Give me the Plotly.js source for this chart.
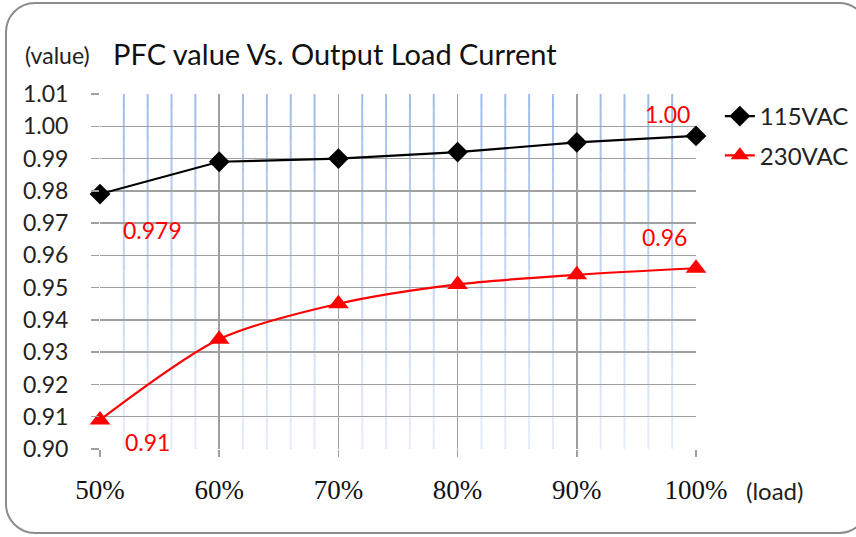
<!DOCTYPE html>
<html>
<head>
<meta charset="utf-8">
<script src="https://cdn.plot.ly/plotly-3.0.1.min.js"></script>
<style>
  html, body { margin: 0; padding: 0; background: #fff; }
  #wrap { position: relative; width: 856px; height: 537px; overflow: hidden; }
  #chart { width: 856px; height: 537px; }
  #frame { position: absolute; left: 5px; top: 2px; width: 860px; height: 528px;
           border: 2px solid #8c8c8c; border-radius: 30px; pointer-events: none; }
</style>
</head>
<body>
<div id="wrap"><div id="chart"></div><div id="frame"></div></div>
<script>
// ---- data ----
const loads = [50, 60, 70, 80, 90, 100];
const tickLabels = ['50%', '60%', '70%', '80%', '90%', '100%'];
const pfc115 = [0.979, 0.989, 0.990, 0.992, 0.995, 0.997];
const pfc230 = [0.909, 0.934, 0.945, 0.951, 0.954, 0.956];
const seriesNames = ['115VAC', '230VAC'];
const titleText = 'PFC value Vs. Output Load Current';
const yUnit = '(value)';
const xUnit = '(load)';

const xRange = [50, 100];
const yRange = [0.90, 1.01];

// ---- minor gridlines with a vertical fade (top blue, bottom pale) ----
const shapes = [];
const nSeg = 22;
const cTop = [158, 188, 234], cBot = [232, 238, 250];
for (let xv = xRange[0] + 2; xv < xRange[1]; xv += 2) {
  if (xv % 10 === 0) continue;
  for (let s = 0; s < nSeg; s++) {
    const t = (s + 0.5) / nSeg; // 0 bottom -> 1 top
    const c = cBot.map((b, i) => Math.round(b + (cTop[i] - b) * t));
    const y0 = yRange[0] + (yRange[1] - yRange[0]) * s / nSeg;
    const y1 = yRange[0] + (yRange[1] - yRange[0]) * (s + 1) / nSeg;
    shapes.push({ type: 'line', xref: 'x', yref: 'y', x0: xv, x1: xv, y0: y0, y1: y1,
      layer: 'below', line: { color: `rgb(${c[0]},${c[1]},${c[2]})`, width: 2 } });
  }
}

const traces = [
  { x: loads, y: pfc115, name: seriesNames[0], type: 'scatter', mode: 'lines+markers',
    legendgroup: 'a',
    line: { color: '#000000', width: 2.2 },
    marker: { symbol: 'diamond', size: 16, color: '#000000' }, cliponaxis: false },
  { x: loads, y: pfc230, name: seriesNames[1], type: 'scatter', mode: 'lines+markers',
    legendgroup: 'b',
    line: { color: '#ff0000', width: 2.2, shape: 'spline', smoothing: 0.8 },
    marker: { symbol: 'triangle-up', size: 18, color: '#ff0000' }, cliponaxis: false }
];

const lastI = loads.length - 1;
const labelFont = { family: 'Lato, "Open Sans", sans-serif', size: 23, color: '#ff0000' };
const annotations = [
  { x: loads[0], y: pfc115[0], xref: 'x', yref: 'y', text: pfc115[0].toFixed(3),
    showarrow: false, xshift: 52, yshift: -36, font: labelFont },
  { x: loads[0], y: pfc230[0], xref: 'x', yref: 'y', text: pfc230[0].toFixed(2),
    showarrow: false, xshift: 47, yshift: -22, font: labelFont },
  { x: loads[lastI], y: pfc115[lastI], xref: 'x', yref: 'y', text: pfc115[lastI].toFixed(2),
    showarrow: false, xshift: -29, yshift: 22, font: labelFont },
  { x: loads[lastI], y: pfc230[lastI], xref: 'x', yref: 'y', text: pfc230[lastI].toFixed(2),
    showarrow: false, xshift: -32, yshift: 31, font: labelFont },
  { x: -0.072, y: 1.11, xref: 'paper', yref: 'paper', xanchor: 'center', yanchor: 'middle',
    text: yUnit, showarrow: false,
    font: { family: 'Lato, sans-serif', size: 23, color: '#222' } },
  { x: 1.131, y: -0.117, xref: 'paper', yref: 'paper', xanchor: 'center', yanchor: 'middle',
    text: xUnit, showarrow: false,
    font: { family: 'Lato, sans-serif', size: 24, color: '#222' } }
];

const layout = {
  width: 856, height: 537,
  margin: { l: 100, r: 160, t: 94, b: 88, autoexpand: false },
  paper_bgcolor: '#ffffff', plot_bgcolor: '#ffffff',
  title: { text: titleText, x: 113 / 856, xanchor: 'left', xref: 'container',
           y: 1 - 55 / 537, yanchor: 'middle', yref: 'container',
           font: { family: 'Lato, "Open Sans", sans-serif', size: 29, color: '#111' } },
  xaxis: {
    range: xRange, tickvals: loads, ticktext: tickLabels,
    showgrid: true, gridcolor: '#a0a0a0', gridwidth: 1.5,
    zeroline: false, showline: false,
    ticks: 'outside', ticklen: 7, tickwidth: 1.5, tickcolor: '#a0a0a0',
    ticklabelstandoff: 10,
    tickfont: { family: '"Liberation Serif", "Times New Roman", serif', size: 27, color: '#111' }
  },
  yaxis: {
    range: yRange, dtick: 0.01, tick0: 0.90, tickformat: '.2f',
    showgrid: true, gridcolor: '#a0a0a0', gridwidth: 1.5,
    zeroline: false, showline: false,
    ticks: 'outside', ticklen: 8, tickwidth: 1.5, tickcolor: '#a0a0a0',
    ticklabelstandoff: 18,
    tickfont: { family: 'Lato, "Open Sans", sans-serif', size: 23, color: '#222' }
  },
  showlegend: true,
  legend: { x: 1.04, xanchor: 'left', y: 1.0, yanchor: 'top',
            traceorder: 'grouped', tracegroupgap: 5,
            font: { family: 'Lato, "Open Sans", sans-serif', size: 24, color: '#222' },
            bgcolor: 'rgba(0,0,0,0)' },
  shapes: shapes,
  annotations: annotations
};

Plotly.newPlot('chart', traces, layout, { displayModeBar: false, staticPlot: true });
</script>
</body>
</html>
